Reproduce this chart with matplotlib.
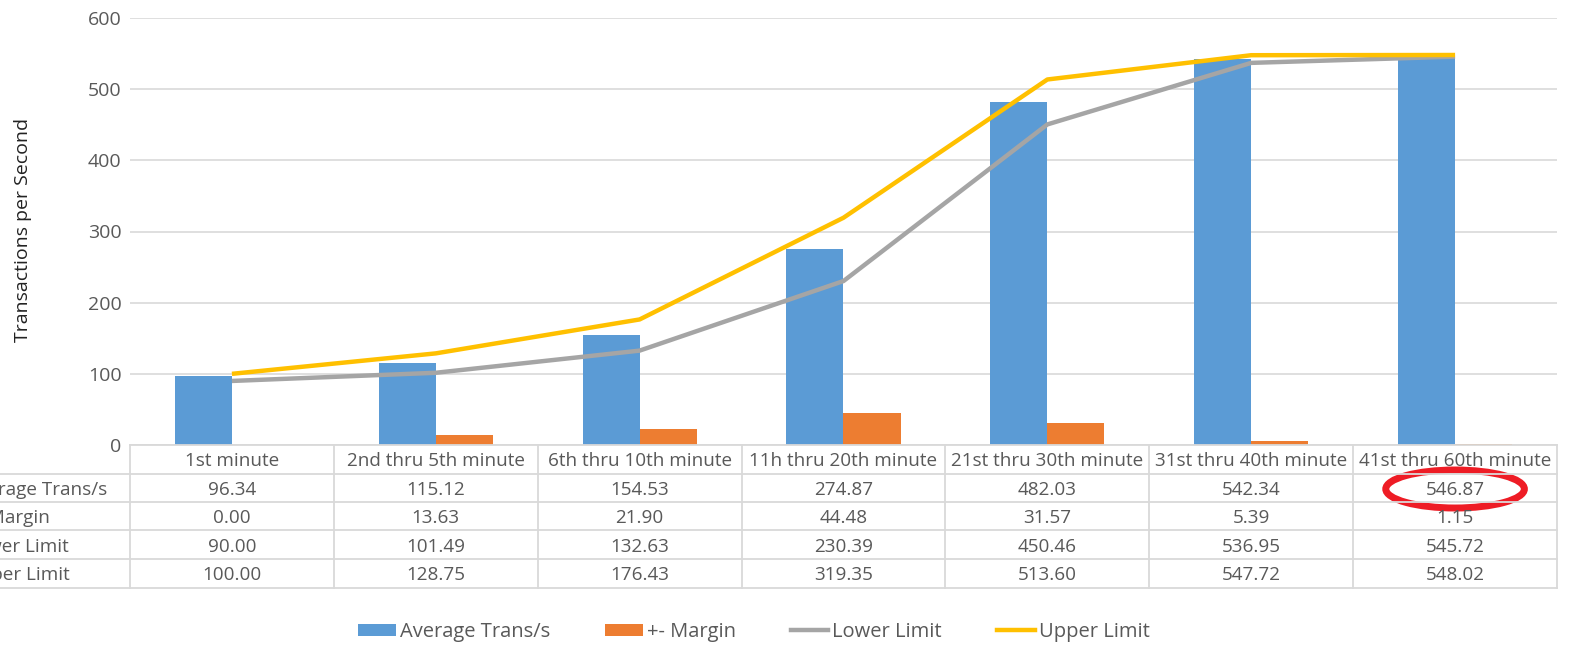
import matplotlib
matplotlib.use("Agg")
import matplotlib.pyplot as plt
import matplotlib.transforms as mtransforms
from matplotlib.patches import Ellipse, Patch
from matplotlib.lines import Line2D
import numpy as np

categories = ["1st minute", "2nd thru 5th minute", "6th thru 10th minute",
              "11h thru 20th minute", "21st thru 30th minute",
              "31st thru 40th minute", "41st thru 60th minute"]
avg_trans = [96.34, 115.12, 154.53, 274.87, 482.03, 542.34, 546.87]
margin = [0.00, 13.63, 21.90, 44.48, 31.57, 5.39, 1.15]
lower_limit = [90.00, 101.49, 132.63, 230.39, 450.46, 536.95, 545.72]
upper_limit = [100.00, 128.75, 176.43, 319.35, 513.60, 547.72, 548.02]
series_names = ["Average Trans/s", "+- Margin", "Lower Limit", "Upper Limit"]
yticks = [0, 100, 200, 300, 400, 500, 600]

W, H = 1570, 648
plt.rcParams['font.family'] = ['Open Sans', 'DejaVu Sans']
TXT = '#595959'
GRID = '#d9d9d9'
BLUE = '#5B9BD5'
ORANGE = '#ED7D31'
GRAY = '#A5A5A5'
YELLOW = '#FFC000'
TFS = 13.6

fig = plt.figure(figsize=(W / 100, H / 100), dpi=100)

def fy(py):
    return 1 - py / H

def fx(px):
    return px / W

ax_left, ax_right, ax_top, ax_bot = 130, 1557, 18, 445
ax = fig.add_axes([fx(ax_left), fy(ax_bot), fx(ax_right - ax_left), (ax_bot - ax_top) / H])

n = len(categories)
x = np.arange(n)
bw = 0.28
ax.bar(x - bw / 2, avg_trans, width=bw, color=BLUE, zorder=2)
ax.bar(x + bw / 2, margin, width=bw, color=ORANGE, zorder=2)
ax.plot(x, lower_limit, color=GRAY, lw=3.2, zorder=3, solid_capstyle='butt')
ax.plot(x, upper_limit, color=YELLOW, lw=3.2, zorder=4, solid_capstyle='butt')

ax.set_xlim(-0.5, n - 0.5)
ax.set_ylim(0, 600)
ax.set_yticks(yticks)
ax.set_yticklabels([str(t) for t in yticks])
ax.set_xticks([])
ax.tick_params(axis='y', length=0, pad=6, labelsize=14, labelcolor=TXT)
ax.grid(axis='y', color=GRID, lw=1.2, zorder=0)
for s in ax.spines.values():
    s.set_visible(False)
fig.text(fx(23), fy(230), "Transactions per Second", rotation=90, ha='center', va='center',
         fontsize=14, color='#222222')

# Data table below the axes
bt = mtransforms.blended_transform_factory(ax.transData, fig.transFigure)
row_edges = [445, 474, 502, 530, 559, 588]
rows = [avg_trans, margin, lower_limit, upper_limit]
lc = GRID
lw = 1.3
fig.add_artist(Line2D([-0.5, n - 0.5], [fy(row_edges[0])] * 2, transform=bt, color=lc, lw=lw))
for ry in row_edges[1:]:
    fig.add_artist(Line2D([0, fx(ax_right)], [fy(ry)] * 2, transform=fig.transFigure, color=lc, lw=lw))
for b in np.arange(-0.5, n, 1.0):
    fig.add_artist(Line2D([b, b], [fy(row_edges[0]), fy(row_edges[-1])], transform=bt, color=lc, lw=lw))
for i, c in enumerate(categories):
    fig.text(i, fy((row_edges[0] + row_edges[1]) / 2 + 2), c, transform=bt, ha='center', va='center',
             fontsize=TFS, color=TXT)
for r, (name, vals) in enumerate(zip(series_names, rows)):
    yc = fy((row_edges[r + 1] + row_edges[r + 2]) / 2 + 2)
    fig.text(fx(-34), yc, name, ha='left', va='center', fontsize=TFS, color=TXT)
    for i, v in enumerate(vals):
        fig.text(i, yc, f"{v:.2f}", transform=bt, ha='center', va='center', fontsize=TFS, color=TXT)

# red annotation ellipse around last average value
ell = Ellipse((n - 1, fy(489)), width=0.68, height=38 / H, transform=bt,
              fill=False, edgecolor='#EE1C25', lw=5)
fig.add_artist(ell)

# legend
handles = [Patch(facecolor=BLUE, edgecolor='none'),
           Patch(facecolor=ORANGE, edgecolor='none'),
           Line2D([], [], color=GRAY, lw=3.2),
           Line2D([], [], color=YELLOW, lw=3.2)]
leg = fig.legend(handles, series_names, loc='center', bbox_to_anchor=(fx(754), fy(632)),
                 ncol=4, frameon=False, labelcolor=TXT,
                 prop={'family': ['Open Sans'], 'size': 14.5},
                 handlelength=1.85, handleheight=0.55, handletextpad=0.2, columnspacing=2.75)

fig.savefig("out.png", dpi=100)
